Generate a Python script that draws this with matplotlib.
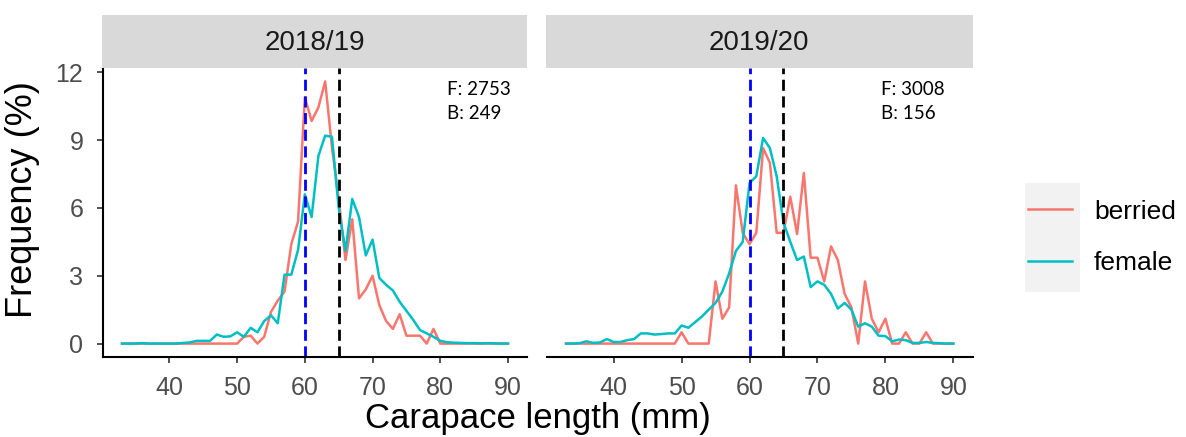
import numpy as np
import matplotlib
matplotlib.use("Agg")
import matplotlib.pyplot as plt
from matplotlib.patches import Rectangle

plt.rcParams['font.family'] = ['Liberation Sans', 'DejaVu Sans']

# carapace length bins (mm)
length = np.arange(33, 91)

seasons = ["2018/19", "2019/20"]

female_1819 = [0, 0, 0, 0.02, 0, 0, 0, 0, 0, 0.03,
               0.05, 0.12, 0.12, 0.12, 0.4, 0.3, 0.32, 0.5, 0.3, 0.7,
               0.5, 1.0, 1.25, 0.9, 3.05, 3.05, 4.15, 6.6, 5.6, 8.3,
               9.2, 9.15, 6.0, 4.1, 6.4, 5.6, 3.9, 4.6, 2.9, 2.6,
               2.35, 1.85, 1.45, 1.05, 0.6, 0.45, 0.3, 0.12, 0.06, 0.04,
               0.03, 0.02, 0.02, 0.01, 0.02, 0.01, 0, 0]
berried_1819 = [0, 0, 0, 0, 0, 0, 0, 0, 0, 0,
                0, 0, 0, 0, 0, 0, 0, 0, 0.3, 0.35,
                0, 0.3, 1.4, 1.9, 2.3, 4.4, 5.4, 10.9, 9.85, 10.45,
                11.6, 8.7, 6.4, 3.7, 5.5, 2.0, 2.4, 3.0, 1.7, 1.0,
                0.65, 1.3, 0.35, 0.35, 0.35, 0, 0.65, 0, 0, 0,
                0, 0, 0, 0, 0, 0, 0, 0]

female_1920 = [0, 0, 0.02, 0.1, 0.03, 0.05, 0.2, 0.07, 0.07, 0.15,
               0.2, 0.45, 0.45, 0.4, 0.42, 0.45, 0.45, 0.8, 0.7, 0.95,
               1.2, 1.5, 1.8, 2.3, 3.1, 4.1, 4.5, 7.1, 7.4, 9.1,
               8.65, 7.4, 5.35, 4.5, 3.7, 3.85, 2.5, 2.75, 2.6, 2.2,
               1.55, 1.8, 1.5, 0.75, 0.9, 0.75, 0.35, 0.33, 0.1, 0.18,
               0.15, 0.03, 0.03, 0.07, 0.03, 0.02, 0, 0]
berried_1920 = [0, 0, 0, 0, 0, 0, 0, 0, 0, 0,
                0, 0, 0, 0, 0, 0, 0, 0.5, 0, 0,
                0, 0, 2.75, 1.1, 1.6, 7.0, 4.9, 4.4, 4.9, 8.65,
                8.0, 4.9, 4.9, 6.5, 4.85, 7.55, 3.8, 3.8, 2.75, 4.3,
                3.7, 2.2, 1.6, 0, 2.75, 1.1, 0.5, 1.1, 0, 0,
                0.5, 0, 0, 0.5, 0, 0, 0, 0]

n_female = [2753, 3008]
n_berried = [249, 156]

# reference lines (mm)
ref_blue = 60
ref_black = 65

red = "#F8766D"
cyan = "#00BFC4"
W, H = 1186.0, 437.0

fig = plt.figure(figsize=(11.86, 4.37), dpi=100)

panels = [(102.7, 527.3), (546.7, 972.7)]
ax_top, ax_bot = 68.3, 356.7
strip_top = 15.0
note_x = [0.81, 0.784]

data = [(berried_1819, female_1819), (berried_1920, female_1920)]
for i, (x0, x1) in enumerate(panels):
    ax = fig.add_axes([x0 / W, 1 - ax_bot / H, (x1 - x0) / W, (ax_bot - ax_top) / H])
    b, f = data[i]
    lb, = ax.plot(length, b, color=red, lw=1.8, label="berried")
    lf, = ax.plot(length, f, color=cyan, lw=1.8, label="female")
    ax.axvline(ref_blue, color="#0000FF", lw=2, ls=(0, (4, 2)))
    ax.axvline(ref_black, color="black", lw=2, ls=(0, (4, 2)))
    ax.set_xlim(30.15, 92.85)
    ax.set_ylim(-0.58, 12.18)
    ax.set_xticks([40, 50, 60, 70, 80, 90])
    ax.set_yticks([0, 3, 6, 9, 12])
    for s in ["top", "right"]:
        ax.spines[s].set_visible(False)
    ax.spines["bottom"].set_linewidth(1.5)
    ax.spines["left"].set_linewidth(1.5)
    ax.tick_params(axis="both", length=4, width=1.2, color="#333333",
                   labelsize=18, labelcolor="#4D4D4D", pad=10)
    if i == 1:
        ax.spines["left"].set_visible(False)
        ax.tick_params(axis="y", left=False, labelleft=False)
    ax.text(note_x[i], 0.955, "F: %d\nB: %d" % (n_female[i], n_berried[i]),
            transform=ax.transAxes, fontsize=13.5, family=["Lato", "DejaVu Sans"],
            va="top", ha="left", linespacing=1.45)

    # facet strip
    sx = fig.add_axes([(x0 - 1) / W, 1 - ax_top / H, (x1 - x0 + 1) / W, (ax_top - strip_top) / H])
    sx.set_facecolor("#D9D9D9")
    for s in sx.spines.values():
        s.set_visible(False)
    sx.set_xticks([])
    sx.set_yticks([])
    sx.text(0.5, 0.47, seasons[i], ha="center", va="center", fontsize=20, color="#1A1A1A")

fig.text(537.7 / W, 1 - 428 / H, "Carapace length (mm)", ha="center", va="baseline", fontsize=25)
fig.text(23 / W, 1 - 200 / H, "Frequency (%)", ha="center", va="center", fontsize=26, rotation=90)

# legend with grey key background like ggplot
fig.patches.append(Rectangle((1025 / W, 1 - 292 / H), 55 / W, 109 / H,
                             transform=fig.transFigure, facecolor="#F2F2F2",
                             edgecolor="none", zorder=0))
leg = fig.legend(handles=[lb, lf], loc="center left",
                 bbox_to_anchor=(1028 / W, 1 - 237.5 / H), frameon=False,
                 fontsize=19, handlelength=1.65, handletextpad=0.85,
                 labelspacing=1.05, borderpad=0, borderaxespad=0)

plt.savefig("out.png", dpi=100)
